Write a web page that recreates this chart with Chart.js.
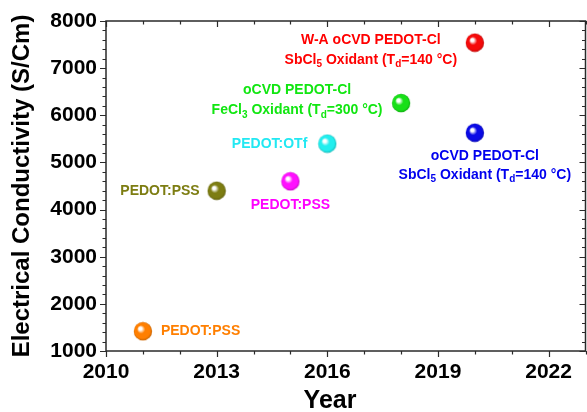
<!DOCTYPE html>
<html>
<head>
<meta charset="utf-8">
<script src="https://cdn.jsdelivr.net/npm/chart.js@4/dist/chart.umd.min.js"></script>
<style>
  body { margin: 0; background: #fff; }
</style>
</head>
<body>
<canvas id="canvas" width="587" height="412"></canvas>
<script>
// data
const years = [2011, 2013, 2015, 2016, 2018, 2020, 2020];
const conductivity = [1420, 4400, 4600, 5400, 6260, 5630, 7540];
const pointLabels = [
  ["PEDOT:PSS"],
  ["PEDOT:PSS"],
  ["PEDOT:PSS"],
  ["PEDOT:OTf"],
  ["oCVD PEDOT-Cl", "FeCl_3 Oxidant (T_d=300 °C)"],
  ["oCVD PEDOT-Cl", "SbCl_5 Oxidant (T_d=140 °C)"],
  ["W-A oCVD PEDOT-Cl", "SbCl_5 Oxidant (T_d=140 °C)"]
];
const xTicks = [2010, 2013, 2016, 2019, 2022];
const yTicks = [1000, 2000, 3000, 4000, 5000, 6000, 7000, 8000];

// styling
const ballColors = ["#ff7f00", "#7d7d12", "#ff10ff", "#22eeee", "#18e018", "#0a0ae6", "#f50a0a"];
const textColors = ["#ff7f00", "#7d7d12", "#ff00ff", "#22e8f2", "#11e611", "#0000ee", "#ff0000"];
// label placement relative to its point: [dx, align, dy of each line]
const labelPlace = [
  [18, "left", [0]],
  [-17, "right", [0]],
  [0, "center", [24]],
  [-20, "right", [1]],
  [-104, "center", [-13, 7]],
  [10, "center", [23, 42]],
  [-104, "center", [-3, 17]]
];

const FONT = '"Liberation Sans", Arial, sans-serif';

function makeBall(color) {
  const c = document.createElement("canvas");
  c.width = 20; c.height = 20;
  const g = c.getContext("2d");
  const grad = g.createRadialGradient(7, 7, 0.5, 10, 10, 9.5);
  grad.addColorStop(0, "#ffffff");
  grad.addColorStop(0.12, "#ffffff");
  grad.addColorStop(0.4, color);
  grad.addColorStop(0.8, color);
  grad.addColorStop(1, shade(color, 0.75));
  g.fillStyle = grad;
  g.beginPath();
  g.arc(10, 10, 9.2, 0, Math.PI * 2);
  g.fill();
  return c;
}
function shade(hex, f) {
  const n = parseInt(hex.slice(1), 16);
  const r = Math.round(((n >> 16) & 255) * f), gg = Math.round(((n >> 8) & 255) * f), b = Math.round((n & 255) * f);
  return "rgb(" + r + "," + gg + "," + b + ")";
}

// text with single-char subscripts written as _x
function richWidth(ctx, str) {
  let w = 0;
  str.split(/(_.)/).forEach(p => {
    if (!p) return;
    if (p[0] === "_" && p.length === 2) { ctx.font = "bold 10px " + FONT; w += ctx.measureText(p[1]).width; }
    else { ctx.font = "bold 14px " + FONT; w += ctx.measureText(p).width; }
  });
  return w;
}
function drawRich(ctx, str, x, y, align) {
  const w = richWidth(ctx, str);
  let cx = align === "left" ? x : align === "right" ? x - w : x - w / 2;
  ctx.textBaseline = "middle";
  ctx.textAlign = "left";
  str.split(/(_.)/).forEach(p => {
    if (!p) return;
    if (p[0] === "_" && p.length === 2) {
      ctx.font = "bold 10px " + FONT;
      ctx.fillText(p[1], cx, y + 5);
      cx += ctx.measureText(p[1]).width;
    } else {
      ctx.font = "bold 14px " + FONT;
      ctx.fillText(p, cx, y);
      cx += ctx.measureText(p).width;
    }
  });
}

const framePlugin = {
  id: "frame",
  afterDraw(chart) {
    const ctx = chart.ctx;
    const a = chart.chartArea;
    const xs = chart.scales.x, ys = chart.scales.y;
    ctx.save();
    ctx.strokeStyle = "#2a2a2a";
    ctx.lineWidth = 1.5;
    ctx.strokeRect(a.left, a.top, a.right - a.left, a.bottom - a.top);
    ctx.lineWidth = 1.2;
    ctx.beginPath();
    for (let v = xs.min; v <= xs.max; v += 1) {
      const px = Math.round(xs.getPixelForValue(v)) + 0.5;
      const len = xTicks.includes(v) ? 6 : 3.5;
      ctx.moveTo(px, a.bottom); ctx.lineTo(px, a.bottom + len);
      ctx.moveTo(px, a.top); ctx.lineTo(px, a.top + len);
    }
    for (let v = ys.min; v <= ys.max; v += 200) {
      const py = Math.round(ys.getPixelForValue(v)) + 0.5;
      const len = yTicks.includes(v) ? 6 : 3.5;
      ctx.moveTo(a.left, py); ctx.lineTo(a.left - len, py);
      ctx.moveTo(a.right, py); ctx.lineTo(a.right - len, py);
    }
    ctx.stroke();

    // point annotations
    years.forEach((yr, i) => {
      const px = xs.getPixelForValue(yr);
      const py = ys.getPixelForValue(conductivity[i]);
      const [dx, align, dys] = labelPlace[i];
      ctx.fillStyle = textColors[i];
      pointLabels[i].forEach((line, j) => drawRich(ctx, line, px + dx, py + dys[j], align));
    });

    // x axis title
    ctx.fillStyle = "#000";
    ctx.font = "bold 25px " + FONT;
    ctx.textAlign = "center";
    ctx.textBaseline = "middle";
    ctx.fillText("Year", 330, 401);
    ctx.restore();
  }
};

const ctx = document.getElementById("canvas").getContext("2d");
new Chart(ctx, {
  type: "scatter",
  data: {
    datasets: [{
      data: years.map((x, i) => ({ x: x, y: conductivity[i] })),
      pointStyle: ballColors.map(makeBall),
      pointRadius: 9,
      pointHoverRadius: 9
    }]
  },
  options: {
    responsive: false,
    animation: false,
    layout: { autoPadding: false, padding: { top: 21, right: 1.5, left: 0, bottom: 0 } },
    plugins: { legend: { display: false }, tooltip: { enabled: false } },
    scales: {
      x: {
        type: "linear",
        min: 2010,
        max: 2023,
        afterBuildTicks: s => { s.ticks = xTicks.map(v => ({ value: v })); },
        afterFit: s => { s.height = 61; s.paddingLeft = 0; s.paddingRight = 0; },
        grid: { display: true, drawOnChartArea: false, color: "rgba(0,0,0,0)", tickLength: 6 },
        border: { display: false },
        ticks: {
          padding: 3,
          maxRotation: 0,
          color: "#000",
          font: { family: FONT, size: 21, weight: "bold" },
          callback: v => String(v)
        }
      },
      y: {
        min: 1000,
        max: 8000,
        afterBuildTicks: s => { s.ticks = yTicks.map(v => ({ value: v })); },
        afterFit: s => { s.width = 106; s.paddingTop = 0; s.paddingBottom = 0; },
        grid: { display: true, drawOnChartArea: false, color: "rgba(0,0,0,0)", tickLength: 6 },
        border: { display: false },
        ticks: {
          padding: 3,
          color: "#000",
          font: { family: FONT, size: 21, weight: "bold" },
          callback: v => String(v)
        },
        title: {
          display: true,
          text: "Electrical Conductivity (S/Cm)",
          color: "#000",
          font: { family: FONT, size: 24, weight: "bold" },
          padding: { top: 8, bottom: 0 }
        }
      }
    }
  },
  plugins: [framePlugin]
});
</script>
</body>
</html>
